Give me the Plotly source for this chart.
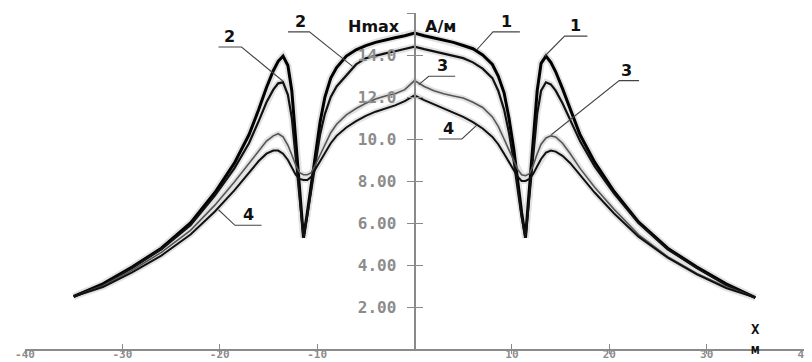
import plotly.graph_objects as go

# ---- data ----
x_m = [-35, -32, -29, -26, -23, -20.5, -18.5, -17, -16, -15.2, -14.5, -14, -13.5, -13, -12.6, -12.2,
       -11.8, -11.4, -11, -10.6, -10.2, -9.7, -9.2, -8.6, -8, -7, -6, -5, -4, -3, -2, -1, 0,
       1, 2, 3, 4, 5, 6, 7, 8, 8.6, 9.2, 9.7, 10.2, 10.6, 11, 11.4, 11.8, 12.2, 12.6, 13,
       13.5, 14, 14.5, 15.2, 16, 17, 18.5, 20.5, 23, 26, 29, 32, 35]

h_curve1 = [2.5, 3.1, 3.9, 4.8, 6.0, 7.45, 8.85, 10.2, 11.4, 12.45, 13.25, 13.7, 13.95, 13.5, 12.3, 10.1,
            7.8, 5.3, 6.5, 7.9, 9.3, 10.8, 12.0, 12.9, 13.4, 13.95, 14.25, 14.45, 14.6, 14.72, 14.82, 14.92, 15.05,
            14.92, 14.82, 14.72, 14.6, 14.45, 14.3, 14.0, 13.55, 13.0, 12.2, 11.0, 9.5, 8.0, 6.5, 5.3, 7.5, 9.9, 12.3, 13.6,
            13.95, 13.65, 13.2, 12.4, 11.4, 10.2, 8.9, 7.5, 6.05, 4.8, 3.9, 3.1, 2.45]

h_curve2 = [2.5, 3.05, 3.85, 4.75, 5.9, 7.3, 8.6, 9.8, 10.85, 11.75, 12.35, 12.65, 12.7, 12.1, 11.0, 9.2,
            7.4, 5.3, 6.4, 7.6, 8.9, 10.2, 11.2, 12.0, 12.5, 13.05, 13.55, 13.85, 13.98, 14.08, 14.18, 14.28, 14.4,
            14.28, 14.18, 14.08, 13.98, 13.85, 13.65, 13.35, 12.9, 12.3, 11.4, 10.3, 8.9, 7.6, 6.3, 5.3, 7.2, 9.3, 11.2, 12.3,
            12.7, 12.6, 12.3, 11.7, 10.9, 9.9, 8.7, 7.4, 6.0, 4.75, 3.85, 3.05, 2.45]

h_curve3 = [2.5, 3.0, 3.75, 4.6, 5.65, 6.85, 7.95, 8.85, 9.45, 9.9, 10.15, 10.25, 10.1, 9.7, 9.25, 8.75,
            8.4, 8.3, 8.3, 8.4, 8.75, 9.25, 9.75, 10.3, 10.7, 11.15, 11.45, 11.7, 11.9, 12.05, 12.15, 12.35, 12.78,
            12.5, 12.3, 12.15, 12.05, 11.95, 11.75, 11.5, 11.05, 10.6, 10.0, 9.5, 9.0, 8.55, 8.3, 8.25, 8.35, 8.75, 9.3, 9.75,
            10.05, 10.15, 10.1, 9.8, 9.3, 8.6, 7.7, 6.65, 5.45, 4.4, 3.6, 2.95, 2.45]

h_curve4 = [2.5, 2.95, 3.65, 4.45, 5.45, 6.55, 7.55, 8.4, 8.95, 9.3, 9.45, 9.45, 9.3, 9.0, 8.65, 8.3,
            8.1, 8.05, 8.05, 8.2, 8.55, 8.95, 9.35, 9.8, 10.15, 10.55, 10.85, 11.1, 11.3, 11.45, 11.6, 11.8, 12.08,
            11.85, 11.65, 11.45, 11.25, 11.05, 10.8, 10.5, 10.1, 9.75, 9.3, 8.9, 8.5, 8.2, 8.0, 8.0, 8.1, 8.35, 8.7, 9.05,
            9.35, 9.45, 9.4, 9.2, 8.85, 8.3, 7.45, 6.45, 5.35, 4.35, 3.55, 2.9, 2.45]

x_tick_vals = [-40, -30, -20, -10, 10, 20, 30, 40]
x_tick_text = ["-40", "-30", "-20", "-10", "10", "20", "30", "40"]
y_tick_vals = [2, 4, 6, 8, 10, 12, 14, 16]
y_tick_text = ["2.00", "4.00", "6.00", "8.00", "10.0", "12.0", "14.0", "16.0"]

curve_names = ["1", "2", "3", "4"]

# ---- styles ----
curves = [
    (h_curve1, "#000000", 3.0),
    (h_curve2, "#111111", 2.2),
    (h_curve3, "#555555", 1.6),
    (h_curve4, "#111111", 2.0),
]

fig = go.Figure()

# faint halos
for ys, col, w in curves:
    fig.add_trace(go.Scatter(x=x_m, y=ys, mode="lines",
                             line=dict(color="#e2e2e2", width=w + 4),
                             hoverinfo="skip", showlegend=False))
for (ys, col, w), nm in zip(curves, curve_names):
    fig.add_trace(go.Scatter(x=x_m, y=ys, mode="lines", name=nm,
                             line=dict(color=col, width=w),
                             hoverinfo="skip", showlegend=False))

# dummy traces for overlay axes (crossing tick marks)
fig.add_trace(go.Scatter(x=[0], y=[0], xaxis="x2", yaxis="y2", mode="markers",
                         marker=dict(opacity=0), hoverinfo="skip", showlegend=False))
fig.add_trace(go.Scatter(x=[0], y=[0], xaxis="x3", yaxis="y", mode="markers",
                         marker=dict(opacity=0), hoverinfo="skip", showlegend=False))

axis_col = "#8a8a8a"
ytick_font = dict(family="DejaVu Sans Mono", size=16, color="#8c8c8c", weight="bold")
xtick_font = dict(family="DejaVu Sans Mono", size=11, color="#8c8c8c", weight="bold")

fig.update_layout(
    width=812, height=362,
    margin=dict(l=17, r=16, t=5, b=21),
    paper_bgcolor="white", plot_bgcolor="white",
    xaxis=dict(range=[-40, 40], domain=[0, 1], showgrid=False, zeroline=False,
               showline=True, linecolor=axis_col, linewidth=1.5,
               ticks="", tickmode="array", tickvals=x_tick_vals, ticktext=x_tick_text,
               tickfont=xtick_font, ticklabelstandoff=-6, fixedrange=True),
    xaxis2=dict(range=[-40, 40], overlaying="x", anchor="y", showgrid=False, zeroline=False,
                showline=False, ticks="inside", ticklen=5, tickwidth=1.2, tickcolor=axis_col,
                tickmode="array", tickvals=x_tick_vals, showticklabels=False, fixedrange=True),
    xaxis3=dict(range=[-40, 40], overlaying="x", anchor="y", showgrid=False, zeroline=False,
                showline=False, ticks="outside", ticklen=4, tickwidth=1.2, tickcolor=axis_col,
                tickmode="array", tickvals=x_tick_vals, showticklabels=False, fixedrange=True),
    yaxis=dict(range=[0, 16], anchor="free", position=0.5, showgrid=False, zeroline=False,
               showline=True, linecolor=axis_col, linewidth=2,
               ticks="outside", ticklen=7, tickwidth=1.2, tickcolor=axis_col,
               tickmode="array", tickvals=y_tick_vals, ticktext=y_tick_text,
               tickfont=ytick_font, ticklabelstandoff=7, fixedrange=True),
    yaxis2=dict(range=[0, 16], overlaying="y", anchor="free", position=0.5, side="left",
                showgrid=False, zeroline=False, showline=False,
                ticks="inside", ticklen=7, tickwidth=1.2, tickcolor=axis_col,
                tickmode="array", tickvals=y_tick_vals, showticklabels=False, fixedrange=True),
)

# leader lines (underline + pointer), positions in data coords
leaders = [
    ("2", [(-20.13, 14.38), (-17.76, 14.38), (-13.5, 12.75)], -18.95),
    ("2", [(-12.99, 15.1), (-10.79, 15.1), (-6.36, 13.46)], -11.75),
    ("1", [(10.82, 15.1), (8.06, 15.1), (6.4, 14.25)], 9.4),
    ("3", [(4.18, 12.99), (1.46, 12.99), (0.44, 12.59)], 2.85),
    ("4", [(2.48, 10.0), (4.87, 10.0), (6.43, 10.67)], 3.5),
    ("1", [(17.76, 14.9), (15.41, 14.9), (13.37, 13.94)], 16.5),
    ("3", [(23.06, 12.78), (21.02, 12.78), (14.05, 10.2)], 21.8),
    ("4", [(-15.71, 5.89), (-18.44, 5.89), (-20.13, 6.63)], -17.0),
]
for txt, pts, tx in leaders:
    path = "M " + " L ".join(f"{px},{py}" for px, py in pts)
    fig.add_shape(type="path", path=path, xref="x", yref="y",
                  line=dict(color="#444444", width=1.1))
    fig.add_annotation(x=tx, y=pts[0][1], xref="x", yref="y", text=txt, showarrow=False,
                       yanchor="bottom", yshift=-1,
                       font=dict(family="DejaVu Sans", size=16, color="#111111", weight="bold"))

lab_font = dict(family="DejaVu Sans", size=16, color="#111111", weight="bold")
fig.add_annotation(x=-4.2, y=15.38, xref="x", yref="y", text="Hmax", showarrow=False,
                   font=lab_font)
fig.add_annotation(x=2.65, y=15.38, xref="x", yref="y", text="A/м", showarrow=False,
                   font=lab_font)
fig.add_annotation(x=35.0, y=0.03, xref="x", yref="paper", text="X", showarrow=False,
                   font=dict(family="DejaVu Sans Mono", size=14, color="#111111", weight="bold"))
fig.add_annotation(x=35.0, y=-0.03, xref="x", yref="paper", text="м", showarrow=False,
                   font=dict(family="DejaVu Sans Mono", size=14, color="#111111", weight="bold"))

fig.write_html("out.html")
